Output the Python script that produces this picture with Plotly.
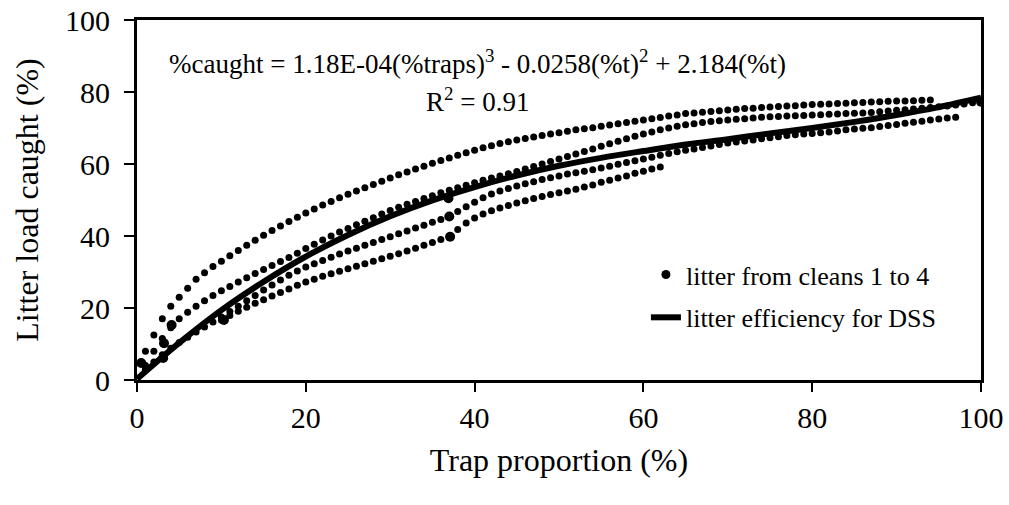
import plotly.graph_objects as go

# ---------------- data ----------------
clean1_x = list(range(1, 95))
clean1_y = [8, 12.5, 17, 20.5, 23, 25.5, 28, 29.8, 31.5, 33,
            34.5, 36, 37.4, 38.8, 40.2, 41.5, 42.8, 44, 45.2, 46.4,
            47.5, 48.6, 49.6, 50.6, 51.6, 52.5, 53.4, 54.3, 55.2, 56.1,
            57, 57.8, 58.6, 59.4, 60.2, 61, 61.7, 62.4, 63.1, 63.8,
            64.5, 65.1, 65.7, 66.2, 66.7, 67.1, 67.5, 67.9, 68.3, 68.7,
            69.1, 69.5, 69.8, 70.1, 70.5, 70.8, 71.2, 71.5, 71.9, 72.2,
            72.6, 72.9, 73.3, 73.6, 74, 74.2, 74.4, 74.6, 74.8, 75,
            75.2, 75.4, 75.5, 75.7, 75.8, 76, 76.1, 76.2, 76.4, 76.5,
            76.6, 76.7, 76.8, 76.9, 77, 77.1, 77.2, 77.3, 77.4, 77.5,
            77.5, 77.6, 77.7, 77.8]

clean2_x = list(range(1, 101))
clean2_y = [4, 8, 11.5, 14.5, 17, 18.8, 20.5, 22, 23.5, 24.8,
            26, 27.2, 28.4, 29.6, 30.7, 31.8, 32.9, 34, 35.2, 36.5,
            37.7, 38.9, 40, 41.1, 42.1, 43.1, 44.1, 45.1, 46.1, 47.1,
            48, 48.8, 49.6, 50.4, 51.2, 52, 52.7, 53.4, 54.1, 54.8,
            55.5, 56.1, 56.7, 57.3, 57.9, 58.6, 59.3, 60, 60.7, 61.4,
            62.1, 62.8, 63.5, 64.2, 64.9, 65.6, 66.3, 67, 67.7, 68.3,
            68.9, 69.5, 70, 70.5, 70.9, 71.2, 71.5, 71.8, 72, 72.2,
            72.4, 72.6, 72.8, 73, 73.1, 73.2, 73.3, 73.4, 73.5, 73.6,
            73.7, 73.8, 73.9, 74, 74.1, 74.2, 74.3, 74.5, 74.7, 74.9,
            75.1, 75.3, 75.5, 75.7, 75.9, 76.1, 76.4, 76.7, 77, 77.3]

clean3_x = list(range(1, 98))
clean3_y = [3, 5, 7, 8.8, 10.4, 11.9, 13.3, 14.7, 16.1, 17.5,
            19, 20.5, 22, 23.5, 25, 26.4, 27.8, 29.1, 30.3, 31.4,
            32.3, 33.2, 34.1, 35, 35.8, 36.6, 37.4, 38.2, 39, 39.8,
            40.6, 41.4, 42.2, 43, 43.8, 44.6, 45.4, 46.8, 48.1, 49.4,
            50.6, 51.7, 52.5, 53.2, 53.9, 54.5, 55.1, 55.7, 56.2, 56.7,
            57.2, 57.6, 58, 58.4, 58.9, 59.4, 59.9, 60.4, 60.9, 61.4,
            61.9, 62.4, 62.9, 63.4, 63.8, 64.2, 64.6, 65, 65.4, 65.8,
            66.1, 66.4, 66.7, 67, 67.3, 67.6, 67.9, 68.1, 68.3, 68.5,
            68.7, 68.9, 69.2, 69.5, 69.7, 69.9, 70.1, 70.4, 70.7, 71,
            71.3, 71.6, 71.9, 72.2, 72.5, 72.8, 73]

clean4_x = list(range(10, 63))
clean4_y = [16.7, 17.9, 19.1, 20.2, 21.3, 22.3, 23.3, 24.3, 25.3, 26.3,
            27.2, 28, 28.8, 29.5, 30.2, 30.9, 31.6, 32.3, 33, 33.7,
            34.4, 35.1, 35.8, 36.6, 37.4, 38.2, 39, 39.8, 41.8, 43.6,
            45, 46.1, 47, 47.8, 48.5, 49.2, 49.8, 50.4, 51, 51.5,
            52, 52.5, 53, 53.6, 54.2, 54.9, 55.5, 56.1, 56.7, 57.4,
            58, 58.6, 59.2]

big_x = [0.5, 3.1, 3.2, 4.1, 10.3, 36.9, 37.0, 37.1, 100]
big_y = [4.7, 6.1, 10.2, 15.3, 16.7, 50.5, 45.4, 39.8, 77.3]

fit_x = [0, 5, 10, 15, 20, 25, 30, 35, 40, 45, 50,
         55, 60, 65, 70, 75, 80, 85, 90, 95, 100]
fit_y = [0.3, 10.3, 19.4, 27.3, 34.3, 40.3, 45.5, 49.9, 53.6, 56.8, 59.5,
         61.7, 63.6, 65.4, 66.9, 68.5, 70.0, 71.7, 73.6, 75.8, 78.4]

x_ticks = [0, 20, 40, 60, 80, 100]
y_ticks = [0, 20, 40, 60, 80, 100]

equation = "%caught = 1.18E-04(%traps)<sup>3</sup> - 0.0258(%t)<sup>2</sup> + 2.184(%t)"
r2_text = "R<sup>2</sup> = 0.91"

# ---------------- figure ----------------
FONT = "Liberation Serif, Times New Roman, serif"
fig = go.Figure()

# legend-only marker entry (first so it is listed first)
fig.add_trace(go.Scatter(x=[None], y=[None], mode="markers",
                         marker=dict(color="black", size=9),
                         name="litter from cleans 1 to 4", legendgroup="dots",
                         legendrank=1))

dot = dict(color="black", size=7, symbol="circle")
for xs, ys in [(clean1_x, clean1_y), (clean2_x, clean2_y),
               (clean3_x, clean3_y), (clean4_x, clean4_y)]:
    fig.add_trace(go.Scatter(x=xs, y=ys, mode="markers", marker=dot,
                             legendgroup="dots", showlegend=False,
                             hoverinfo="skip"))
fig.add_trace(go.Scatter(x=big_x, y=big_y, mode="markers",
                         marker=dict(color="black", size=10),
                         legendgroup="dots", showlegend=False, hoverinfo="skip"))

fig.add_trace(go.Scatter(x=fit_x, y=fit_y, mode="lines", line_shape="spline",
                         line=dict(color="black", width=6),
                         name="litter efficiency for DSS", legendgroup="line",
                         legendrank=2))

fig.add_annotation(x=40.3, y=88.3, text=equation, showarrow=False,
                   font=dict(family=FONT, size=27, color="black"))
fig.add_annotation(x=40.4, y=77.8, text=r2_text, showarrow=False,
                   font=dict(family=FONT, size=27, color="black"))

axis_common = dict(showgrid=False, zeroline=False, color="black",
                   automargin=False,
                   tickfont=dict(family=FONT, size=30, color="black"))

fig.update_layout(
    width=1009, height=505,
    margin=dict(l=137, r=28, t=20, b=125),
    paper_bgcolor="white", plot_bgcolor="white",
    font=dict(family=FONT, color="black"),
    showlegend=True,
    legend=dict(x=0.603, xanchor="left", y=0.358, yanchor="top",
                bgcolor="rgba(0,0,0,0)", traceorder="grouped",
                tracegroupgap=6,
                font=dict(family=FONT, size=26, color="black")),
    xaxis=dict(range=[0, 100], tickvals=x_ticks, ticks="outside", ticklen=9,
               tickwidth=2, showline=True, linewidth=3, linecolor="black",
               mirror=True, ticklabelstandoff=0,
               title=dict(text="Trap proportion (%)", standoff=16,
                          font=dict(family=FONT, size=32, color="black")),
               **axis_common),
    yaxis=dict(range=[0, 100], tickvals=y_ticks, ticks="outside", ticklen=10,
               tickwidth=2, showline=True, linewidth=3, linecolor="black",
               mirror=True, ticklabelstandoff=8,
               title=dict(text="Litter load caught (%)", standoff=17,
                          font=dict(family=FONT, size=32, color="black")),
               **axis_common),
    xaxis2=dict(overlaying="x", matches="x", range=[0, 100], tickvals=x_ticks,
                ticks="inside", ticklen=7, tickwidth=2, tickcolor="black",
                showticklabels=False, showline=False, showgrid=False,
                zeroline=False, anchor="y", side="bottom", automargin=False),
    yaxis2=dict(overlaying="y", matches="y", range=[0, 100], tickvals=y_ticks,
                ticks="inside", ticklen=7, tickwidth=2, tickcolor="black",
                showticklabels=False, showline=False, showgrid=False,
                zeroline=False, anchor="x", side="left", automargin=False),
)

fig.write_html("out.html", config={"displayModeBar": False},
               post_script="document.body.style.margin='0';document.body.style.padding='0';")
